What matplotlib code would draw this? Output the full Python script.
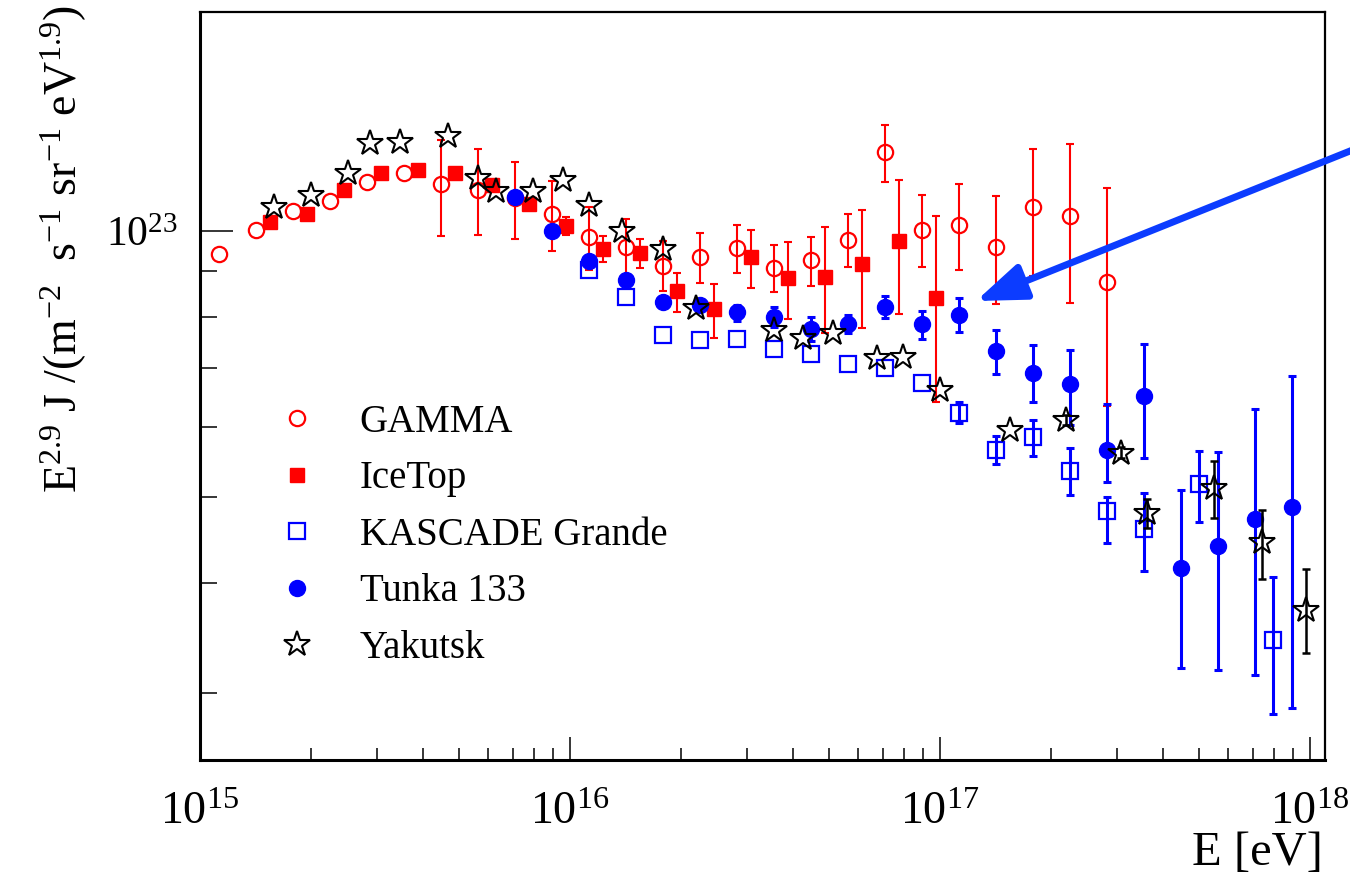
import matplotlib
matplotlib.use('Agg')
import matplotlib.pyplot as plt
import numpy as np
from matplotlib.ticker import LogLocator, NullFormatter, FuncFormatter
from matplotlib.lines import Line2D

plt.rcParams['font.family'] = 'Liberation Serif'
plt.rcParams['mathtext.fontset'] = 'custom'
plt.rcParams['mathtext.rm'] = 'Liberation Serif'
plt.rcParams['mathtext.it'] = 'Liberation Serif:italic'
plt.rcParams['mathtext.default'] = 'rm'

# lg(E/eV) and E^2.9 J in units of 1e22
gamma_lgE = [15.05, 15.15, 15.25, 15.35, 15.45, 15.55, 15.65, 15.75, 15.85, 15.95,
             16.05, 16.15, 16.25, 16.35, 16.45, 16.55, 16.65, 16.75, 16.85, 16.95,
             17.05, 17.15, 17.25, 17.35, 17.45]
gamma_f = [9.42, 10.03, 10.54, 10.82, 11.35, 11.64, 11.29, 11.13, 10.90, 10.44,
           9.84, 9.59, 9.14, 9.35, 9.57, 9.07, 9.27, 9.78, 12.27, 10.03,
           10.16, 9.59, 10.65, 10.41, 8.75]
gamma_lo = [9.42, 10.03, 10.54, 10.82, 11.35, 11.64, 9.87, 9.90, 9.80, 9.49,
            9.04, 8.92, 8.56, 8.74, 8.97, 8.52, 8.67, 9.10, 11.37, 9.10,
            9.04, 8.27, 8.90, 8.28, 6.34]
gamma_hi = [9.42, 10.03, 10.54, 10.82, 11.35, 11.64, 12.68, 12.39, 11.98, 11.39,
            10.65, 10.33, 9.75, 9.96, 10.16, 9.64, 9.85, 10.46, 13.19, 10.98,
            11.30, 10.95, 12.39, 12.55, 11.18]

icetop_lgE = [15.19, 15.29, 15.39, 15.49, 15.59, 15.69, 15.79, 15.89, 15.99, 16.09,
              16.19, 16.29, 16.39, 16.49, 16.59, 16.69, 16.79, 16.89, 16.99]
icetop_f = [10.23, 10.44, 11.13, 11.64, 11.72, 11.64, 11.27, 10.72, 10.13, 9.55,
            9.44, 8.55, 8.16, 9.34, 8.84, 8.86, 9.18, 9.73, 8.40]
icetop_lo = [10.23, 10.44, 11.13, 11.64, 11.72, 11.64, 11.27, 10.72, 9.90, 9.22,
             9.09, 8.10, 7.57, 8.61, 7.95, 7.66, 7.77, 8.06, 6.40]
icetop_hi = [10.23, 10.44, 11.13, 11.64, 11.72, 11.64, 11.27, 10.72, 10.37, 9.86,
             9.80, 8.97, 8.71, 10.03, 9.71, 10.10, 10.57, 11.41, 10.39]

kascade_lgE = [16.05, 16.15, 16.25, 16.35, 16.45, 16.55, 16.65, 16.75, 16.85, 16.95,
               17.05, 17.15, 17.25, 17.35, 17.45, 17.55, 17.70, 17.90]
kascade_f = [9.04, 8.41, 7.63, 7.53, 7.54, 7.36, 7.25, 7.07, 7.00, 6.73,
             6.23, 5.65, 5.84, 5.35, 4.82, 4.60, 5.17, 3.45]
kascade_lo = [9.04, 8.41, 7.63, 7.53, 7.54, 7.36, 7.25, 7.07, 7.00, 6.73,
              6.06, 5.45, 5.57, 5.03, 4.44, 4.13, 4.69, 2.84]
kascade_hi = [9.04, 8.41, 7.63, 7.53, 7.54, 7.36, 7.25, 7.07, 7.00, 6.73,
              6.41, 5.87, 6.11, 5.68, 5.00, 5.06, 5.64, 4.06]

tunka_lgE = [15.85, 15.95, 16.05, 16.15, 16.25, 16.35, 16.45, 16.55, 16.65, 16.75,
             16.85, 16.95, 17.05, 17.15, 17.25, 17.35, 17.45, 17.55, 17.65, 17.75,
             17.85, 17.95]
tunka_f = [10.93, 10.01, 9.25, 8.80, 8.31, 8.24, 8.09, 8.00, 7.74, 7.84,
           8.21, 7.84, 8.04, 7.32, 6.91, 6.71, 5.66, 6.50, 4.16, 4.40,
           4.72, 4.87]
tunka_lo = [10.93, 10.01, 9.25, 8.80, 8.31, 8.24, 7.90, 7.79, 7.50, 7.66,
            7.98, 7.55, 7.69, 6.89, 6.41, 6.03, 5.20, 5.54, 3.20, 3.19,
            3.15, 2.89]
tunka_hi = [10.93, 10.01, 9.25, 8.80, 8.31, 8.24, 8.25, 8.21, 8.00, 8.04,
            8.45, 8.11, 8.40, 7.73, 7.43, 7.34, 6.37, 7.45, 5.10, 5.63,
            6.29, 6.86]

yakutsk_lgE = [15.20, 15.30, 15.40, 15.46, 15.54, 15.67, 15.75, 15.80, 15.90, 15.98,
               16.05, 16.14, 16.25, 16.34, 16.55, 16.63, 16.71, 16.83, 16.90, 17.00,
               17.19, 17.34, 17.49, 17.56, 17.74, 17.87, 17.99]
yakutsk_f = [10.64, 10.98, 11.62, 12.57, 12.62, 12.81, 11.47, 11.11, 11.11, 11.42,
             10.70, 10.00, 9.54, 8.18, 7.73, 7.56, 7.66, 7.18, 7.21, 6.61,
             5.96, 6.11, 5.61, 4.80, 5.12, 4.45, 3.73]
yakutsk_lo = [10.64, 10.98, 11.62, 12.57, 12.62, 12.81, 11.47, 11.11, 11.11, 11.42,
              10.70, 10.00, 9.54, 8.18, 7.73, 7.56, 7.66, 7.18, 7.21, 6.61,
              5.96, 6.03, 5.54, 4.61, 4.74, 4.04, 3.33]
yakutsk_hi = [10.64, 10.98, 11.62, 12.57, 12.62, 12.81, 11.47, 11.11, 11.11, 11.42,
              10.70, 10.00, 9.54, 8.18, 7.73, 7.56, 7.66, 7.18, 7.21, 6.61,
              5.96, 6.19, 5.69, 4.98, 5.49, 4.84, 4.15]

labels = ['GAMMA', 'IceTop', 'KASCADE Grande', 'Tunka 133', 'Yakutsk']

RED = '#ff0000'
BLUE = '#0000ff'

fig = plt.figure(figsize=(13.5, 8.75), dpi=100)
ax = fig.add_axes([200/1350, 115/875, 1125/1350, 748/875])


def draw(lgE, f, lo, hi, marker, color, ms, mfc, mew, elw, cap, z):
    E = 10**np.array(lgE)
    f = np.array(f) * 1e22
    lo = np.array(lo) * 1e22
    hi = np.array(hi) * 1e22
    m = (hi - lo) > 0
    ax.errorbar(E[m], f[m], yerr=[f[m] - lo[m], hi[m] - f[m]], fmt='none',
                ecolor=color, elinewidth=elw, capsize=cap, capthick=elw, zorder=z)
    ax.plot(E, f, linestyle='none', marker=marker, ms=ms, mfc=mfc, mec=color,
            mew=mew, zorder=z + 0.5)


draw(gamma_lgE, gamma_f, gamma_lo, gamma_hi, 'o', RED, 11, 'none', 1.6, 1.5, 3, 2)
draw(icetop_lgE, icetop_f, icetop_lo, icetop_hi, 's', RED, 10.5, RED, 1, 1.5, 3, 3)
draw(kascade_lgE, kascade_f, kascade_lo, kascade_hi, 's', BLUE, 11, 'none', 1.6, 2.2, 3, 4)
draw(tunka_lgE, tunka_f, tunka_lo, tunka_hi, 'o', BLUE, 11.5, BLUE, 1, 2.2, 3, 5)
draw(yakutsk_lgE, yakutsk_f, yakutsk_lo, yakutsk_hi, '*', 'black', 19, 'none', 1.5, 1.8, 3, 6)

ax.set_xscale('log')
ax.set_yscale('log')
ax.set_xlim(1e15, 10**18.0405)
ax.set_ylim(10**22.4016, 10**23.2477)

ax.xaxis.set_major_locator(LogLocator(base=10))
ax.xaxis.set_minor_locator(LogLocator(base=10, subs=np.arange(2, 10)))
ax.yaxis.set_major_locator(LogLocator(base=10))
ax.yaxis.set_minor_locator(LogLocator(base=10, subs=np.arange(2, 10)))
fmt = FuncFormatter(lambda v, p: r'$10^{%d}$' % round(np.log10(v)))
ax.xaxis.set_major_formatter(fmt)
ax.yaxis.set_major_formatter(fmt)
ax.xaxis.set_minor_formatter(NullFormatter())
ax.yaxis.set_minor_formatter(NullFormatter())

ax.tick_params(axis='x', which='major', direction='in', length=16.5, width=1.1,
               labelsize=33, pad=23, top=False)
ax.tick_params(axis='x', which='minor', direction='in', length=8.6, width=1.1, top=False)
ax.tick_params(axis='y', which='major', direction='in', length=24, width=1.1,
               labelsize=30, pad=16, right=False)
ax.tick_params(axis='y', which='minor', direction='in', length=12, width=1.1, right=False)
for s in ax.spines.values():
    s.set_linewidth(1.6)
ax.spines['bottom'].set_linewidth(2.2)
ax.spines['left'].set_linewidth(2.2)

fig.text(1323/1350, 10/875, 'E [eV]', ha='right', va='baseline', fontsize=35)
fig.text(64/1350, 0.715,
         r'E$^{2.9}$ J /(m$^{-2}$  s$^{-1}$ sr$^{-1}$ eV$^{1.9}$)',
         rotation=90, ha='center', va='center', fontsize=33)

handles = [
    Line2D([], [], ls='none', marker='o', ms=11, mfc='none', mec=RED, mew=1.6),
    Line2D([], [], ls='none', marker='s', ms=10.5, mfc=RED, mec=RED, mew=1),
    Line2D([], [], ls='none', marker='s', ms=11, mfc='none', mec=BLUE, mew=1.6),
    Line2D([], [], ls='none', marker='o', ms=11.5, mfc=BLUE, mec=BLUE, mew=1),
    Line2D([], [], ls='none', marker='*', ms=19, mfc='none', mec='black', mew=1.5),
]
fig.legend(handles, labels, loc='upper left',
           bbox_to_anchor=(278/1350, (875 - 404)/875),
           frameon=False, fontsize=28, handlelength=1.0,
           handletextpad=1.1, labelspacing=0.5, borderpad=0, borderaxespad=0)

ax.annotate('', xy=(976, 875 - 301), xycoords='figure pixels',
            xytext=(1365, 875 - 145), textcoords='figure pixels',
            arrowprops=dict(arrowstyle='-|>,head_length=0.75,head_width=0.28',
                            lw=5, color='#0c3cff', mutation_scale=40,
                            shrinkA=0, shrinkB=0),
            annotation_clip=False)

fig.savefig('out.png', dpi=100)
